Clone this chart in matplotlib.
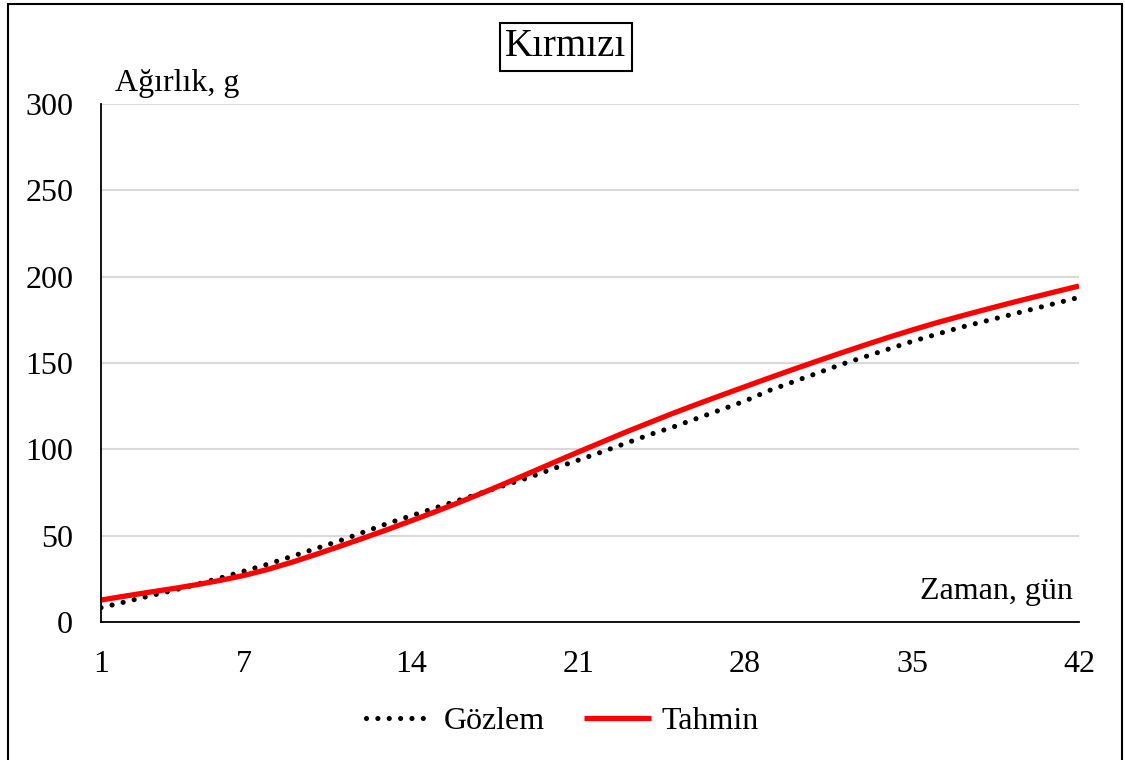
import matplotlib.pyplot as plt
from matplotlib.patches import Rectangle

# Gözlem / Tahmin (Kırmızı), days 1..42
days = list(range(1, 43))
gozlem = [8.3, 11.6, 15.0, 18.2, 21.8, 25.5, 29.5, 33.5, 38.0, 42.5,
          47.0, 52.0, 57.0, 61.5, 66.0, 70.5, 75.0, 79.5, 84.0, 89.0,
          93.7, 98.5, 103.5, 108.5, 113.0, 118.0, 123.0, 128.0, 134.0, 139.0,
          144.0, 149.0, 153.5, 158.0, 162.5, 166.5, 170.5, 174.0, 177.5, 181.0,
          184.5, 188.0]
tahmin = [12.7, 15.0, 17.2, 19.3, 21.6, 24.1, 27.0, 30.5, 34.6, 39.1,
          43.8, 48.6, 53.5, 58.6, 63.8, 69.2, 74.8, 80.6, 86.5, 92.5,
          98.4, 104.2, 110.0, 115.5, 121.0, 126.2, 131.3, 136.3, 141.3, 146.2,
          151.0, 155.7, 160.3, 164.8, 169.1, 173.2, 177.0, 180.7, 184.3, 187.8,
          191.2, 194.6]
xticks = [1, 7, 14, 21, 28, 35, 42]
yticks = [0, 50, 100, 150, 200, 250, 300]

plt.rcParams['font.family'] = ['Liberation Serif', 'DejaVu Serif']

fig = plt.figure(figsize=(11.25, 7.6), dpi=100)
ax = fig.add_axes([101/1125, 1 - 622/760, 978/1125, 518/760])

ax.plot(days, gozlem, color='black', lw=3.7, linestyle=(0, (0.01, 2.2)),
        dash_capstyle='round', label='Gözlem', zorder=3)
ax.plot(days, tahmin, color='#ff0000', lw=3.8, solid_capstyle='butt',
        solid_joinstyle='round', label='Tahmin', zorder=4)

ax.set_xlim(1, 42)
ax.set_ylim(0, 300)
ax.set_xticks(xticks)
ax.set_yticks(yticks)
ax.tick_params(axis='both', length=0, labelsize=23)
ax.tick_params(axis='y', pad=20)
ax.tick_params(axis='x', pad=20)
ax.grid(axis='y', color='#d9d9d9', lw=1.5, zorder=0)
ax.set_axisbelow(True)
for s in ['top', 'right']:
    ax.spines[s].set_visible(False)
for s in ['left', 'bottom']:
    ax.spines[s].set_linewidth(1.3)
    ax.spines[s].set_zorder(5)

ax.text(0.014, 1.012, 'Ağırlık, g', transform=ax.transAxes, fontsize=23,
        ha='left', va='bottom')
ax.text(0.994, 0.03, 'Zaman, gün', transform=ax.transAxes, fontsize=23,
        ha='right', va='bottom')

fig.text(566/1125, 1 - 47/760, 'Kırmızı', fontsize=28, ha='center',
         va='center', bbox=dict(boxstyle='square,pad=0.15', fc='white',
                                ec='black', lw=1.5))

fig.legend(loc='center', bbox_to_anchor=(0.5, 1 - 721/760), ncol=2,
           frameon=False, fontsize=23, handlelength=2.1, handletextpad=0.35,
           columnspacing=1.2)

fig.patches.append(Rectangle((8/1125, -0.05), 1114/1125, 1.05 - 4/760,
                             transform=fig.transFigure, fill=False,
                             ec='black', lw=1.5))

fig.savefig('out.png', dpi=100)
